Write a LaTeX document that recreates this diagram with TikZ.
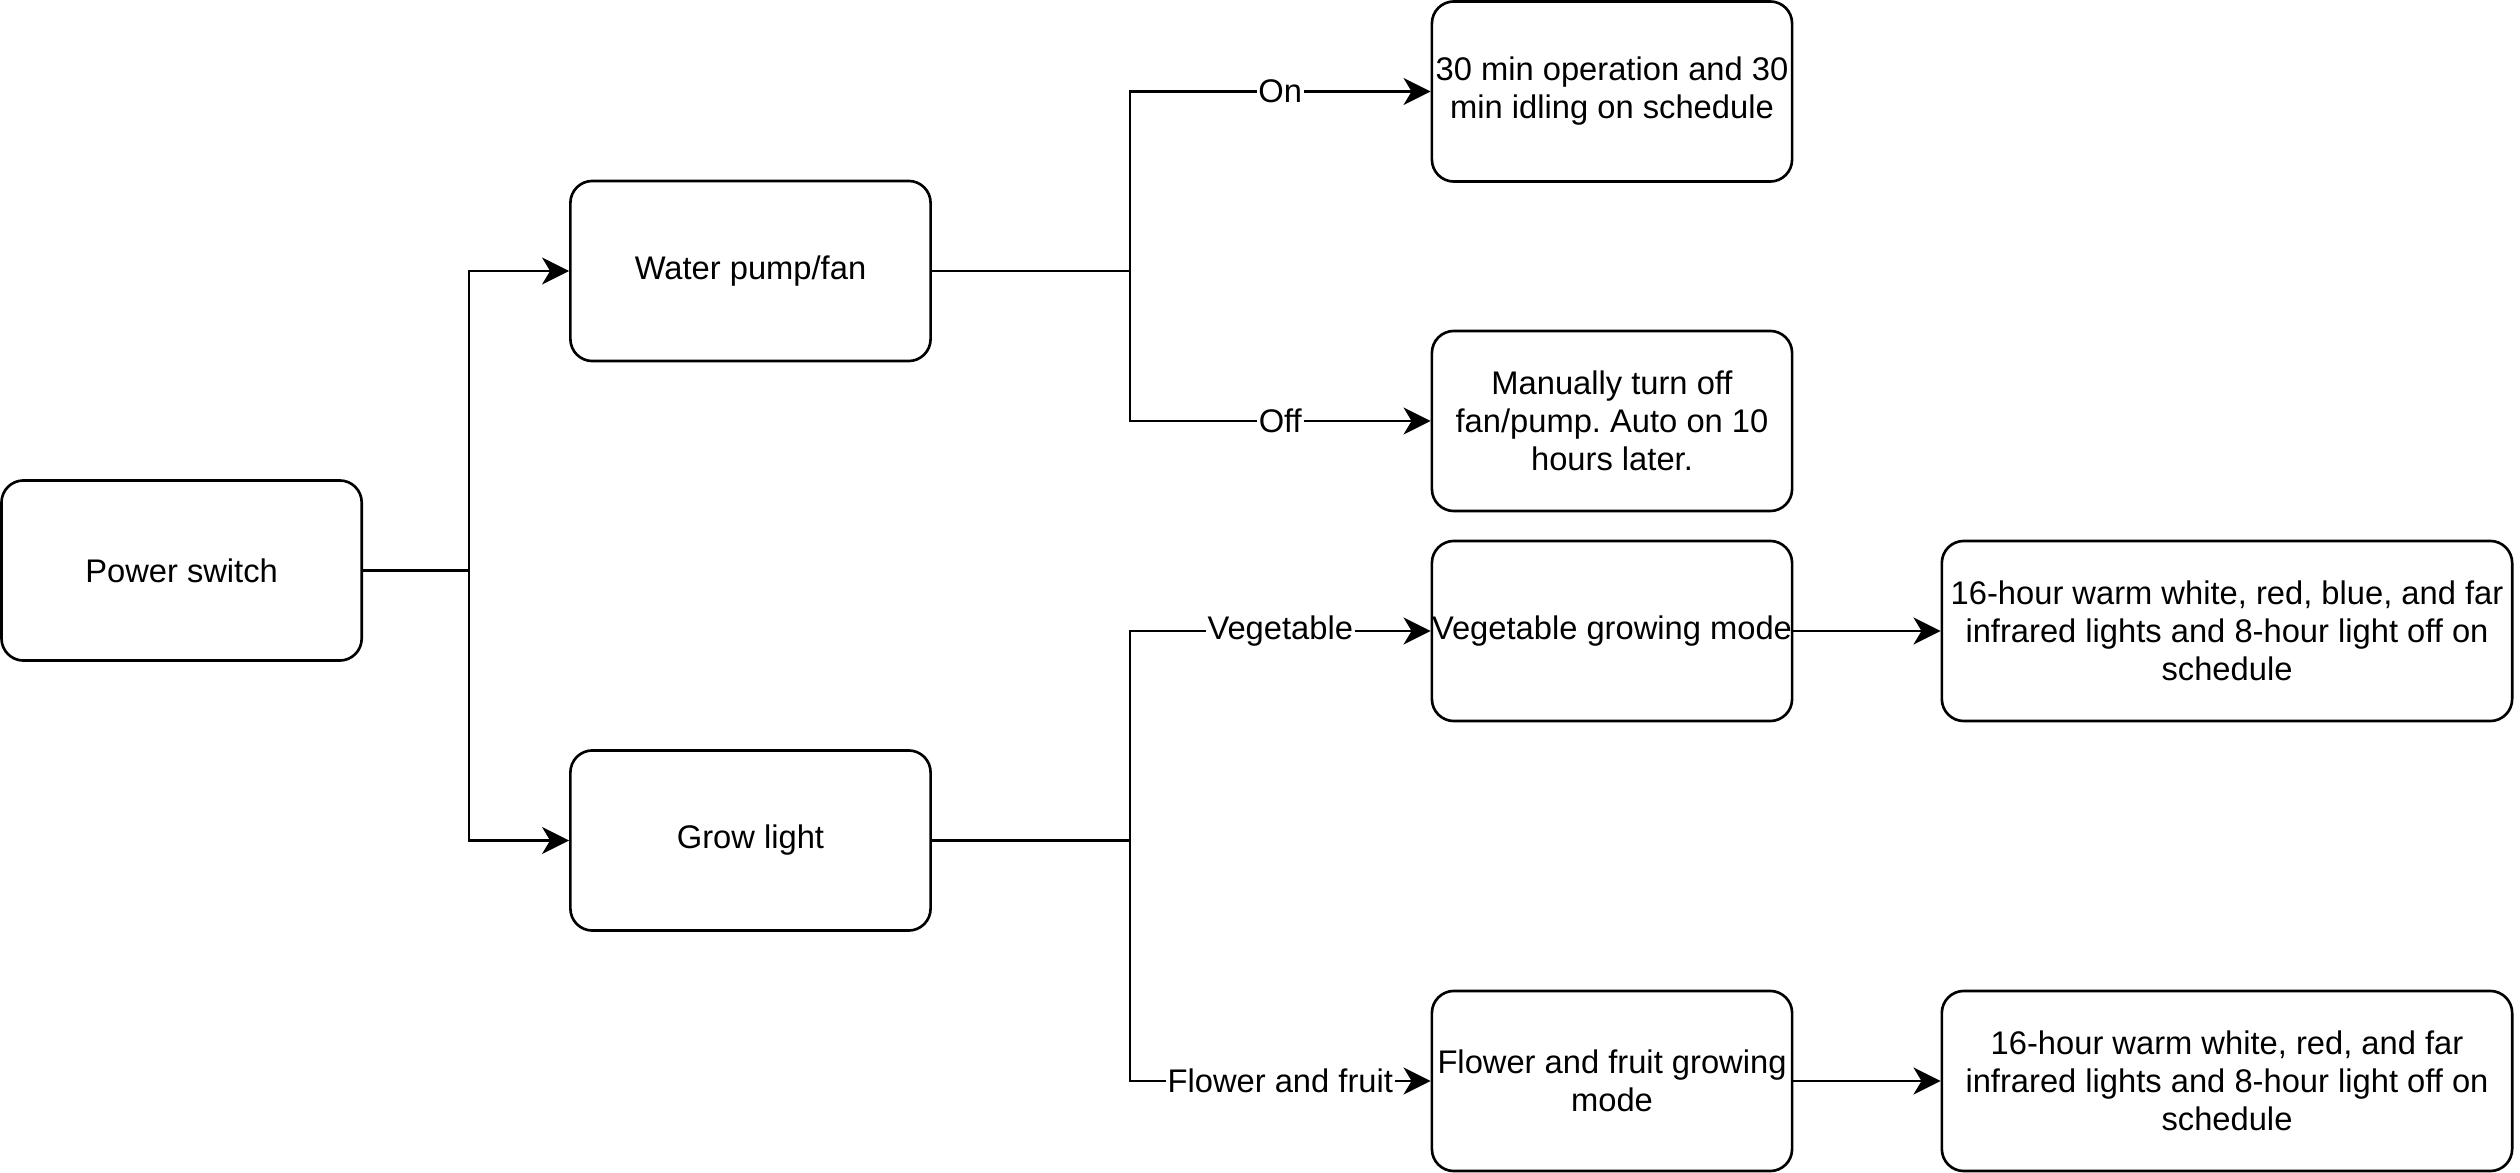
\documentclass[tikz,border=0pt]{standalone}
\usepackage{fontspec}
\setmainfont{Liberation Sans}
\usetikzlibrary{arrows.meta}
\begin{document}
\frenchspacing
\begin{tikzpicture}[x=0.01cm,y=-0.01cm,
  box/.style={draw, line width=0.75pt, rounded corners=0.22cm, minimum width=3.6cm, minimum height=1.8cm, align=center, inner sep=0pt, font=\fontsize{9.3}{10.8}\selectfont},
  widebox/.style={box, minimum width=5.7cm},
  arr/.style={line width=0.75pt, -{Stealth[length=0.27cm, width=0.27cm, inset=0.08cm]}},
  lbl/.style={fill=white, inner sep=0.5pt, font=\fontsize{9.3}{10.8}\selectfont}]
\useasboundingbox (0,0) rectangle (2520,1173);
\node[box] (PS) at (181.6,570.5) {Power switch};
\node[box] (WP) at (750.5,271) {Water pump/fan};
\node[box] (GL) at (750.5,840.5) {Grow light};
\node[box] (T1) at (1612,91.5) {\raisebox{-0.04cm}{\parbox{3.6cm}{\centering 30 min operation and 30\\min idling on schedule}}};
\node[box] (M) at (1612,421) {Manually turn off\\fan/pump. Auto on 10\\hours later.};
\node[box] (V) at (1612,631) {Vegetable growing mode};
\node[box] (F) at (1612,1081) {Flower and fruit growing\\mode};
\node[widebox] (L1) at (2227,631) {16-hour warm white, red, blue, and far\\infrared lights and 8-hour light off on\\schedule};
\node[widebox] (L2) at (2227,1081) {16-hour warm white, red, and far\\infrared lights and 8-hour light off on\\schedule};
\coordinate (j1) at (469,0);
\coordinate (j2) at (1130,0);
\draw[arr] (PS.east) -- (PS.east -| j1) |- (WP.west);
\draw[arr] (PS.east) -- (PS.east -| j1) |- (GL.west);
\draw[arr] (WP.east) -- (WP.east -| j2) |- node[pos=0.75, lbl] {On} (T1.west);
\draw[arr] (WP.east) -- (WP.east -| j2) |- node[pos=0.75, lbl] {Off} (M.west);
\draw[arr] (GL.east) -- (GL.east -| j2) |- node[pos=0.75, lbl] {Vegetable} (V.west);
\draw[arr] (GL.east) -- (GL.east -| j2) |- node[pos=0.75, lbl] {Flower and fruit} (F.west);
\draw[arr] (V.east) -- (L1.west);
\draw[arr] (F.east) -- (L2.west);
\end{tikzpicture}
\end{document}
